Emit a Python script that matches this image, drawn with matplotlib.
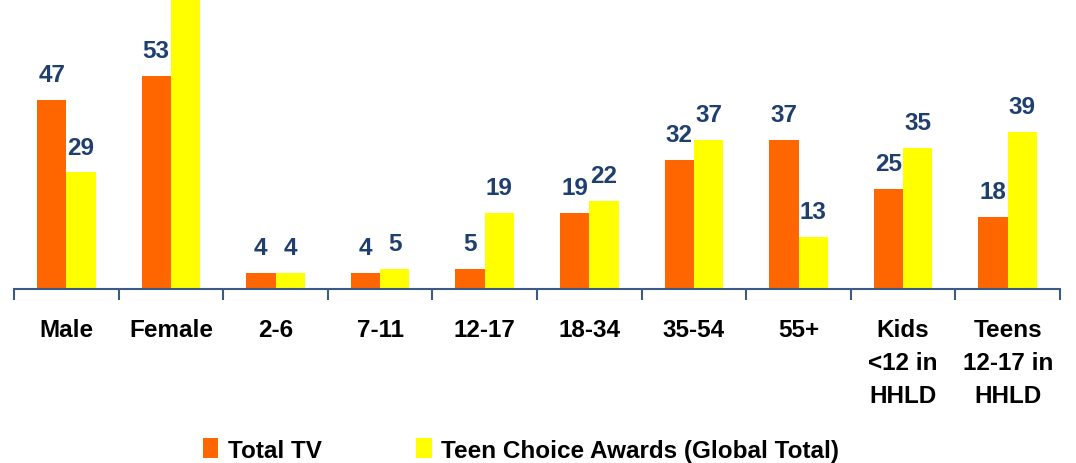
import numpy as np
import matplotlib.pyplot as plt

plt.rcParams['font.family'] = ['Liberation Sans', 'DejaVu Sans']

categories = ["Male", "Female", "2-6", "7-11", "12-17", "18-34", "35-54", "55+",
              "Kids\n<12 in\nHHLD", "Teens\n12-17 in\nHHLD"]
total_tv = [47, 53, 4, 4, 5, 19, 32, 37, 25, 18]
teen_choice = [29, 76, 4, 5, 19, 22, 37, 13, 35, 39]
series_names = ["Total TV", "Teen Choice Awards (Global Total)"]

orange = "#FF6600"
yellow = "#FFFF00"
label_col = "#1F3F6F"
axis_col = "#3B5B85"

fig = plt.figure(figsize=(10.76, 4.64), dpi=100)
ax = fig.add_axes([14/1076, 1 - 290/464, 1046/1076, 290/464])
ax.patch.set_alpha(0)

x = np.arange(len(categories)) + 0.5
w = 0.28
b1 = ax.bar(x - w/2, total_tv, w, color=orange, label=series_names[0])
b2 = ax.bar(x + w/2, teen_choice, w, color=yellow, label=series_names[1])

ax.set_xlim(0, len(categories))
ax.set_ylim(0, 290/4.02)

# value labels above bars
for bars, vals in ((b1, total_tv), (b2, teen_choice)):
    for r, v in zip(bars, vals):
        ax.annotate(str(v), (r.get_x() + r.get_width()/2, v), xytext=(0, 10),
                    textcoords="offset points", ha="center", va="bottom",
                    fontsize=17.5, fontweight="bold", color=label_col,
                    annotation_clip=True)

for s in ["top", "right", "left"]:
    ax.spines[s].set_visible(False)
ax.spines["bottom"].set_color(axis_col)
ax.spines["bottom"].set_linewidth(1.5)
ax.set_yticks([])

ax.set_xticks(np.arange(len(categories) + 1))
ax.set_xticklabels([])
ax.tick_params(axis="x", which="major", length=8, width=1.5, color=axis_col)
ax.set_xticks(x, minor=True)
ax.set_xticklabels(categories, minor=True, fontsize=17.5, fontweight="bold",
                   linespacing=1.55, va="top")
ax.tick_params(axis="x", which="minor", length=0, pad=21)

fig.legend(handles=[b1, b2], loc="center left",
           bbox_to_anchor=(203/1076, 1 - 451/464), borderpad=0, borderaxespad=0,
           ncol=2, frameon=False, prop={"size": 17.5, "weight": "bold"},
           handlelength=0.62, handleheight=0.9, handletextpad=0.4,
           columnspacing=3.9)

fig.savefig("out.png", dpi=100)
